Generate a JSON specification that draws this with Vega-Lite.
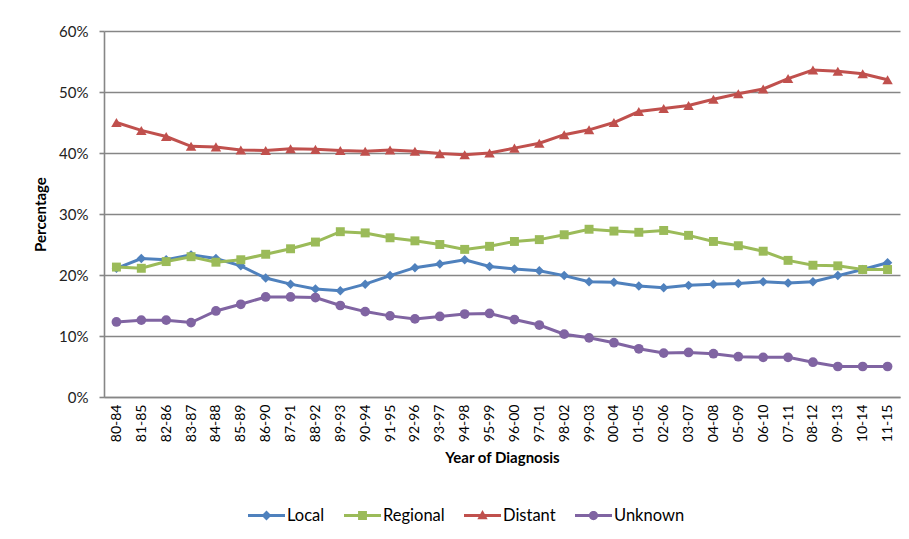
{
  "$schema": "https://vega.github.io/schema/vega-lite/v6.json",
  "width": 796,
  "height": 366,
  "autosize": {"type": "none"},
  "padding": {"left": 104, "top": 31, "right": 9, "bottom": 142},
  "background": "white",
  "config": {
    "view": {"stroke": null},
    "font": "Lato",
    "axis": {"labelFont": "Lato", "titleFont": "Lato"}
  },
  "data": {"values": [
    {"p":"80-84","s":"Local","v":21.1},{"p":"81-85","s":"Local","v":22.7},{"p":"82-86","s":"Local","v":22.5},{"p":"83-87","s":"Local","v":23.3},
    {"p":"84-88","s":"Local","v":22.7},{"p":"85-89","s":"Local","v":21.5},{"p":"86-90","s":"Local","v":19.5},{"p":"87-91","s":"Local","v":18.5},
    {"p":"88-92","s":"Local","v":17.7},{"p":"89-93","s":"Local","v":17.4},{"p":"90-94","s":"Local","v":18.5},{"p":"91-95","s":"Local","v":19.9},
    {"p":"92-96","s":"Local","v":21.2},{"p":"93-97","s":"Local","v":21.8},{"p":"94-98","s":"Local","v":22.5},{"p":"95-99","s":"Local","v":21.4},
    {"p":"96-00","s":"Local","v":21.0},{"p":"97-01","s":"Local","v":20.7},{"p":"98-02","s":"Local","v":19.9},{"p":"99-03","s":"Local","v":18.9},
    {"p":"00-04","s":"Local","v":18.8},{"p":"01-05","s":"Local","v":18.2},{"p":"02-06","s":"Local","v":17.9},{"p":"03-07","s":"Local","v":18.3},
    {"p":"04-08","s":"Local","v":18.5},{"p":"05-09","s":"Local","v":18.6},{"p":"06-10","s":"Local","v":18.9},{"p":"07-11","s":"Local","v":18.7},
    {"p":"08-12","s":"Local","v":18.9},{"p":"09-13","s":"Local","v":19.9},{"p":"10-14","s":"Local","v":20.9},{"p":"11-15","s":"Local","v":22.0},
    {"p":"80-84","s":"Regional","v":21.3},{"p":"81-85","s":"Regional","v":21.1},{"p":"82-86","s":"Regional","v":22.2},{"p":"83-87","s":"Regional","v":23.0},
    {"p":"84-88","s":"Regional","v":22.1},{"p":"85-89","s":"Regional","v":22.5},{"p":"86-90","s":"Regional","v":23.4},{"p":"87-91","s":"Regional","v":24.3},
    {"p":"88-92","s":"Regional","v":25.4},{"p":"89-93","s":"Regional","v":27.1},{"p":"90-94","s":"Regional","v":26.9},{"p":"91-95","s":"Regional","v":26.1},
    {"p":"92-96","s":"Regional","v":25.6},{"p":"93-97","s":"Regional","v":25.0},{"p":"94-98","s":"Regional","v":24.2},{"p":"95-99","s":"Regional","v":24.7},
    {"p":"96-00","s":"Regional","v":25.5},{"p":"97-01","s":"Regional","v":25.8},{"p":"98-02","s":"Regional","v":26.6},{"p":"99-03","s":"Regional","v":27.5},
    {"p":"00-04","s":"Regional","v":27.2},{"p":"01-05","s":"Regional","v":27.0},{"p":"02-06","s":"Regional","v":27.3},{"p":"03-07","s":"Regional","v":26.5},
    {"p":"04-08","s":"Regional","v":25.5},{"p":"05-09","s":"Regional","v":24.8},{"p":"06-10","s":"Regional","v":23.9},{"p":"07-11","s":"Regional","v":22.4},
    {"p":"08-12","s":"Regional","v":21.6},{"p":"09-13","s":"Regional","v":21.5},{"p":"10-14","s":"Regional","v":20.9},{"p":"11-15","s":"Regional","v":20.9},
    {"p":"80-84","s":"Distant","v":45.0},{"p":"81-85","s":"Distant","v":43.7},{"p":"82-86","s":"Distant","v":42.7},{"p":"83-87","s":"Distant","v":41.1},
    {"p":"84-88","s":"Distant","v":41.0},{"p":"85-89","s":"Distant","v":40.5},{"p":"86-90","s":"Distant","v":40.4},{"p":"87-91","s":"Distant","v":40.7},
    {"p":"88-92","s":"Distant","v":40.6},{"p":"89-93","s":"Distant","v":40.4},{"p":"90-94","s":"Distant","v":40.3},{"p":"91-95","s":"Distant","v":40.5},
    {"p":"92-96","s":"Distant","v":40.3},{"p":"93-97","s":"Distant","v":39.9},{"p":"94-98","s":"Distant","v":39.7},{"p":"95-99","s":"Distant","v":40.0},
    {"p":"96-00","s":"Distant","v":40.8},{"p":"97-01","s":"Distant","v":41.6},{"p":"98-02","s":"Distant","v":43.0},{"p":"99-03","s":"Distant","v":43.8},
    {"p":"00-04","s":"Distant","v":45.0},{"p":"01-05","s":"Distant","v":46.8},{"p":"02-06","s":"Distant","v":47.3},{"p":"03-07","s":"Distant","v":47.8},
    {"p":"04-08","s":"Distant","v":48.8},{"p":"05-09","s":"Distant","v":49.7},{"p":"06-10","s":"Distant","v":50.5},{"p":"07-11","s":"Distant","v":52.2},
    {"p":"08-12","s":"Distant","v":53.6},{"p":"09-13","s":"Distant","v":53.4},{"p":"10-14","s":"Distant","v":53.0},{"p":"11-15","s":"Distant","v":52.0},
    {"p":"80-84","s":"Unknown","v":12.3},{"p":"81-85","s":"Unknown","v":12.6},{"p":"82-86","s":"Unknown","v":12.6},{"p":"83-87","s":"Unknown","v":12.2},
    {"p":"84-88","s":"Unknown","v":14.1},{"p":"85-89","s":"Unknown","v":15.2},{"p":"86-90","s":"Unknown","v":16.4},{"p":"87-91","s":"Unknown","v":16.4},
    {"p":"88-92","s":"Unknown","v":16.3},{"p":"89-93","s":"Unknown","v":15.0},{"p":"90-94","s":"Unknown","v":14.0},{"p":"91-95","s":"Unknown","v":13.3},
    {"p":"92-96","s":"Unknown","v":12.8},{"p":"93-97","s":"Unknown","v":13.2},{"p":"94-98","s":"Unknown","v":13.6},{"p":"95-99","s":"Unknown","v":13.7},
    {"p":"96-00","s":"Unknown","v":12.7},{"p":"97-01","s":"Unknown","v":11.8},{"p":"98-02","s":"Unknown","v":10.3},{"p":"99-03","s":"Unknown","v":9.7},
    {"p":"00-04","s":"Unknown","v":8.9},{"p":"01-05","s":"Unknown","v":7.9},{"p":"02-06","s":"Unknown","v":7.2},{"p":"03-07","s":"Unknown","v":7.3},
    {"p":"04-08","s":"Unknown","v":7.1},{"p":"05-09","s":"Unknown","v":6.6},{"p":"06-10","s":"Unknown","v":6.5},{"p":"07-11","s":"Unknown","v":6.5},
    {"p":"08-12","s":"Unknown","v":5.7},{"p":"09-13","s":"Unknown","v":5.0},{"p":"10-14","s":"Unknown","v":5.0},{"p":"11-15","s":"Unknown","v":5.0}
  ]},
  "encoding": {
    "x": {
      "field": "p", "type": "ordinal", "sort": null,
      "scale": {"type": "point", "padding": 0.5},
      "axis": {
        "title": "Year of Diagnosis", "titleFontSize": 15, "titleFontWeight": "bold", "titleColor": "#000",
        "titlePadding": 9,
        "labelAngle": 270, "labelAlign": "right", "labelBaseline": "middle", "labelFontSize": 14, "labelColor": "#000",
        "labelPadding": 7,
        "ticks": false, "domainColor": "#868686", "domainWidth": 1.6, "grid": false
      }
    },
    "y": {
      "field": "v", "type": "quantitative",
      "scale": {"domain": [0, 60], "nice": false},
      "axis": {
        "title": "Percentage", "titleFontSize": 15, "titleFontWeight": "bold", "titleColor": "#000",
        "titlePadding": 10,
        "values": [0, 10, 20, 30, 40, 50, 60],
        "labelExpr": "datum.value + '%'",
        "labelFontSize": 15, "labelColor": "#222", "labelPadding": 11,
        "tickSize": 5, "tickColor": "#868686", "tickWidth": 1.6,
        "domainColor": "#868686", "domainWidth": 1.6,
        "grid": true, "gridColor": "#868686", "gridWidth": 1.6
      }
    },
    "color": {
      "field": "s", "type": "nominal",
      "scale": {"domain": ["Local", "Regional", "Distant", "Unknown"], "range": ["#4F81BD", "#9BBB59", "#C0504D", "#8064A2"]},
      "legend": {
        "orient": "none", "legendX": 144, "legendY": 466, "direction": "horizontal", "title": null,
        "symbolSize": 1369, "labelFont": "Lato", "labelFontSize": 16.5, "labelColor": "#000",
        "labelOffset": 2, "columnPadding": 19,
        "encode": {
          "symbols": {
            "update": {
              "shape": {"signal": "(datum.value === 'Local' ? 'M0,-0.27L0.27,0L0,0.27L-0.27,0Z' : datum.value === 'Regional' ? 'M-0.24,-0.24L0.24,-0.24L0.24,0.24L-0.24,0.24Z' : datum.value === 'Distant' ? 'M0,-0.3L0.28,0.2L-0.28,0.2Z' : 'M-0.25,0A0.25,0.25 0 1,1 0.25,0A0.25,0.25 0 1,1 -0.25,0Z') + 'M-1,-0.08L1,-0.08L1,0.08L-1,0.08Z'"},
              "size": {"value": 1369},
              "fill": {"scale": "color", "field": "value"},
              "fillOpacity": {"value": 1},
              "stroke": {"value": "transparent"},
              "strokeWidth": {"value": 0}
            }
          }
        }
      }
    }
  },
  "layer": [
    {"mark": {"type": "line", "strokeWidth": 3}},
    {"transform": [{"filter": "datum.s === 'Local'"}], "mark": {"type": "point", "shape": "diamond", "filled": true, "opacity": 1, "size": 90}},
    {"transform": [{"filter": "datum.s === 'Regional'"}], "mark": {"type": "point", "shape": "square", "filled": true, "opacity": 1, "size": 80}},
    {"transform": [{"filter": "datum.s === 'Distant'"}], "mark": {"type": "point", "shape": "triangle-up", "filled": true, "opacity": 1, "size": 110}},
    {"transform": [{"filter": "datum.s === 'Unknown'"}], "mark": {"type": "point", "shape": "circle", "filled": true, "opacity": 1, "size": 95}}
  ]
}
